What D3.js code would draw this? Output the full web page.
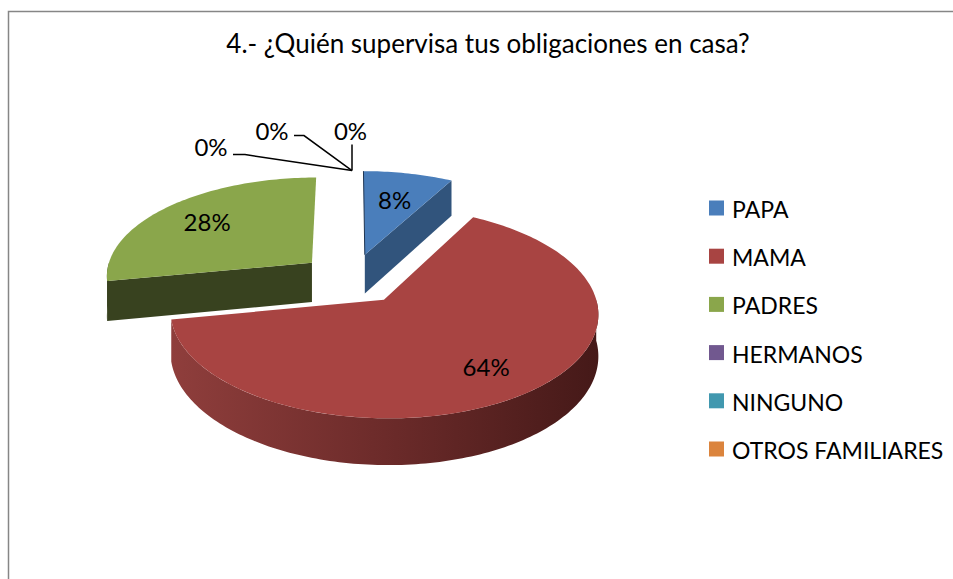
<!DOCTYPE html>
<html>
<head>
<meta charset="utf-8">
<script src="https://cdn.jsdelivr.net/npm/d3@7"></script>
<style>
  html, body { margin: 0; padding: 0; background: #fff; }
  svg { display: block; }
  text { font-family: Lato, "Open Sans", sans-serif; fill: #000; }
</style>
</head>
<body>
<svg id="chart" width="953" height="579"></svg>
<script>
// chart data
const title = '4.- ¿Quién supervisa tus obligaciones en casa?';
const categories = ['PAPA', 'MAMA', 'PADRES', 'HERMANOS', 'NINGUNO', 'OTROS FAMILIARES'];
const values = [8, 64, 28, 0, 0, 0];
const labels = ['8%', '64%', '28%', '0%', '0%', '0%'];

const topColors = ['#4a7ebb', '#a84442', '#8aa64b', '#71588f', '#4198af', '#db843d'];
const sideColors = ['#31547c', '#6b2a29', '#38421f', '#4b3a5f', '#2b6574', '#925828'];
const wallStops = ['#8f3e3c', '#6c2b2a', '#451918'];

// 3d pie geometry (perspective-ish projection of a tilted disc)
const cx = 352, cy = 278.6;
const R = 207, Rk = 99;      // horizontal radius, vertical radius
const persp = 0.12;          // near side bigger than far side
const explode = 0.256;       // fraction of radius
const depth = 40;            // slab thickness
const labelR = [0.66, 0.74, 0.72];

const svg = d3.select('#chart');

function proj(u, v, z) {
  const s = 1 / (1 - persp * v);
  return [cx + R * u * s, cy + (Rk * v + z) * s];
}

function point(d, a, r, z) {
  const mid = (d.startAngle + d.endAngle) / 2;
  const u = explode * Math.sin(mid) + r * Math.sin(a);
  const v = -explode * Math.cos(mid) - r * Math.cos(a);
  return proj(u, v, z);
}

function arcPts(d, a0, a1, z) {
  const n = Math.max(2, Math.ceil(Math.abs(a1 - a0) / 0.02));
  return d3.range(n + 1).map(i => point(d, a0 + (a1 - a0) * i / n, 1, z));
}

const line = d3.line().curve(d3.curveLinearClosed);

const pie = d3.pie().sort(null).value(d => d).startAngle(0).endAngle(2 * Math.PI);
const arcs = pie(values).map((d, i) => Object.assign(d, {i: i}));

// shaded outer wall
const defs = svg.append('defs');
const grad = defs.append('linearGradient')
  .attr('id', 'wall')
  .attr('x1', 0).attr('x2', 1).attr('y1', 0).attr('y2', 0);
grad.selectAll('stop')
  .data(wallStops)
  .enter()
  .append('stop')
  .attr('offset', (d, i) => i / (wallStops.length - 1))
  .attr('stop-color', d => d);

// frame
svg.append('rect')
  .attr('x', 8.5).attr('y', 11.5)
  .attr('width', 1000).attr('height', 1000)
  .attr('fill', 'none')
  .attr('stroke', '#868686')
  .attr('stroke-width', 1.5);

svg.append('text')
  .attr('x', 488).attr('y', 53)
  .attr('text-anchor', 'middle')
  .style('font-size', '26px')
  .text(title);

const pieG = svg.append('g');
const drawn = arcs.filter(d => d.value > 0)
  .sort((a, b) => -Math.cos((b.startAngle + b.endAngle) / 2) + Math.cos((a.startAngle + a.endAngle) / 2));

drawn.forEach(d => {
  const g = pieG.append('g');
  const a0 = d.startAngle, a1 = d.endAngle;
  const center0 = point(d, 0, 0, 0), centerT = point(d, 0, 0, depth);

  // radial faces
  if (Math.sin(a0) < -1e-6) {
    g.append('path')
      .attr('d', line([center0, point(d, a0, 1, 0), point(d, a0, 1, depth), centerT]))
      .attr('fill', sideColors[d.i]);
  }
  if (Math.sin(a1) > 1e-6) {
    g.append('path')
      .attr('d', line([center0, point(d, a1, 1, 0), point(d, a1, 1, depth), centerT]))
      .attr('fill', sideColors[d.i]);
  }

  // outer wall, only the part facing us
  const lo = Math.max(a0, Math.PI / 2), hi = Math.min(a1, 3 * Math.PI / 2);
  if (hi > lo) {
    const pts = arcPts(d, lo, hi, 0).concat(arcPts(d, hi, lo, depth));
    g.append('path')
      .attr('d', line(pts))
      .attr('fill', d.i === 1 ? 'url(#wall)' : sideColors[d.i]);
  }

  // top face
  g.append('path')
    .attr('d', line([center0].concat(arcPts(d, a0, a1, 0))))
    .attr('fill', topColors[d.i]);

  // thin dark edge where the start face is seen edge-on
  if (Math.abs(Math.sin(a0)) < 1e-6) {
    g.append('path')
      .attr('d', d3.line()([center0, point(d, a0, 1, 0)]))
      .attr('stroke', '#1f3552')
      .attr('stroke-width', 1);
  }
});

// labels for non zero slices
arcs.filter(d => d.value > 0).forEach(d => {
  const p = point(d, (d.startAngle + d.endAngle) / 2, labelR[d.i], 0);
  svg.append('text')
    .attr('x', p[0]).attr('y', p[1])
    .attr('text-anchor', 'middle')
    .attr('dominant-baseline', 'central')
    .style('font-size', '24px')
    .text(labels[d.i]);
});

// zero slices: labels pulled out with leader lines
const zeroOffsets = [[-141, -24], [-80, -40], [-1.5, -40]];
const zeroBends = [[-107, -16], [-48, -35], [0, -26]];
const zeroEnds = [[-119, -16], [-58, -35], [0, -26]];
arcs.filter(d => d.value === 0).forEach((d, k) => {
  const anchor = point(d, d.startAngle, 1, 0);
  const pts = [anchor,
    [anchor[0] + zeroBends[k][0], anchor[1] + zeroBends[k][1]],
    [anchor[0] + zeroEnds[k][0], anchor[1] + zeroEnds[k][1]]];
  svg.append('path')
    .attr('d', d3.line()(pts))
    .attr('fill', 'none')
    .attr('stroke', '#000')
    .attr('stroke-width', 1.5);
  svg.append('text')
    .attr('x', anchor[0] + zeroOffsets[k][0])
    .attr('y', anchor[1] + zeroOffsets[k][1])
    .attr('text-anchor', 'middle')
    .attr('dominant-baseline', 'central')
    .style('font-size', '24px')
    .text(labels[d.i]);
});

// legend
const legend = svg.append('g').attr('transform', 'translate(709,208)');
const item = legend.selectAll('g')
  .data(categories)
  .enter()
  .append('g')
  .attr('transform', (d, i) => `translate(0,${i * 48.2})`);
item.append('rect')
  .attr('x', 0).attr('y', -7.5)
  .attr('width', 15).attr('height', 15)
  .attr('fill', (d, i) => topColors[i]);
item.append('text')
  .attr('x', 23).attr('y', 1)
  .attr('dominant-baseline', 'central')
  .style('font-size', '23px')
  .text(d => d);
</script>
</body>
</html>
